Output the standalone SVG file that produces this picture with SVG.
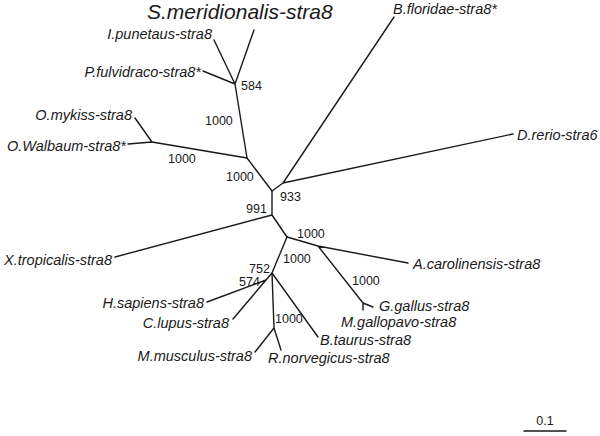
<svg xmlns="http://www.w3.org/2000/svg" width="600" height="436" viewBox="0 0 600 436">
<style>
.e{stroke:#1a1a1a;stroke-width:1.4;fill:none;stroke-linecap:round;stroke-linejoin:round}
.t{font-family:"Liberation Sans",Arial,sans-serif;font-style:italic;font-size:14.5px;fill:#1a1a1a}
.b{font-family:"Liberation Sans",Arial,sans-serif;font-size:12.5px;fill:#1a1a1a}
</style>
<rect width="600" height="436" fill="#fff"/>
<g id="connectors">
<path class="e" d="M235,84 L254,30 M235,84 L214,40 M235,84 L203,71 M235,84 L247,158"/>
<path class="e" d="M247,158 L152,142 M152,142 L135,118 M152,142 L128,144"/>
<path class="e" d="M247,158 L272,191 L283,183 M283,183 L394,17 M283,183 L513,134"/>
<path class="e" d="M272,191 L272,215 L115,257 M272,215 L287,237"/>
<path class="e" d="M287,237 L318,246 L408,263 M318,246 L363,303 L373,307 M363,303 L363,310"/>
<path class="e" d="M287,237 L272,273 L318,337 M272,273 L266,280 L233,319 M266,280 L207,302"/>
<path class="e" d="M272,273 L274,328 L255,352 M274,328 L281,350"/>
<path class="e" d="M524,431 L566,431"/>
</g>
<g id="S.meridionalis"><text class="t" x="147" y="19" style="font-size:21px">S.meridionalis-stra8</text></g>
<g id="I.punetaus"><text class="t" x="212" y="39" text-anchor="end">I.punetaus-stra8</text></g>
<g id="P.fulvidraco"><text class="t" x="201" y="77" text-anchor="end">P.fulvidraco-stra8*</text></g>
<g id="O.mykiss"><text class="t" x="132" y="120" text-anchor="end">O.mykiss-stra8</text></g>
<g id="O.Walbaum"><text class="t" x="126" y="151" text-anchor="end">O.Walbaum-stra8*</text></g>
<g id="B.floridae"><text class="t" x="393" y="14">B.floridae-stra8*</text></g>
<g id="D.rerio"><text class="t" x="517" y="140">D.rerio-stra6</text></g>
<g id="X.tropicalis"><text class="t" x="112" y="265" text-anchor="end">X.tropicalis-stra8</text></g>
<g id="A.carolinensis"><text class="t" x="413" y="269">A.carolinensis-stra8</text></g>
<g id="G.gallus"><text class="t" x="379" y="311">G.gallus-stra8</text></g>
<g id="M.gallopavo"><text class="t" x="341" y="327">M.gallopavo-stra8</text></g>
<g id="H.sapiens"><text class="t" x="204" y="308" text-anchor="end">H.sapiens-stra8</text></g>
<g id="C.lupus"><text class="t" x="229" y="328" text-anchor="end">C.lupus-stra8</text></g>
<g id="M.musculus"><text class="t" x="252" y="361" text-anchor="end">M.musculus-stra8</text></g>
<g id="R.norvegicus"><text class="t" x="268" y="363">R.norvegicus-stra8</text></g>
<g id="B.taurus"><text class="t" x="320" y="345">B.taurus-stra8</text></g>
<g id="bootstrap">
<text class="b" x="241" y="90">584</text>
<text class="b" x="205" y="125">1000</text>
<text class="b" x="168" y="163">1000</text>
<text class="b" x="226" y="181">1000</text>
<text class="b" x="280" y="201">933</text>
<text class="b" x="246" y="213">991</text>
<text class="b" x="297" y="238">1000</text>
<text class="b" x="283" y="263">1000</text>
<text class="b" x="249" y="273">752</text>
<text class="b" x="239" y="286">574</text>
<text class="b" x="352" y="285">1000</text>
<text class="b" x="275" y="323">1000</text>
</g>
<g id="scale"><text class="b" x="545" y="425" text-anchor="middle">0.1</text></g>
</svg>
